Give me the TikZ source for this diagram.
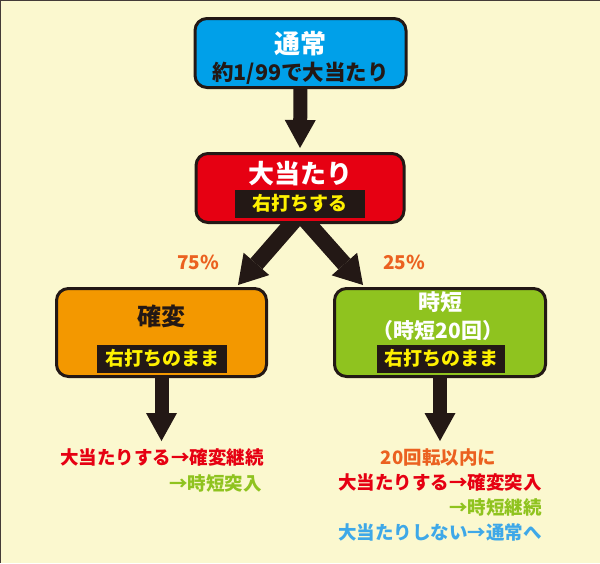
\documentclass[tikz,border=0pt]{standalone}
\usepackage{fontspec}
\setmainfont{Noto Sans CJK JP}
\usetikzlibrary{arrows.meta}
\pgfdeclarelayer{back}
\pgfdeclarelayer{bg}
\pgfsetlayers{back,bg,main}
\definecolor{bgc}{HTML}{FBF8CF}
\definecolor{ink}{HTML}{231815}
\definecolor{cblue}{HTML}{00A0E9}
\definecolor{cred}{HTML}{E60012}
\definecolor{corange}{HTML}{F39800}
\definecolor{cgreen}{HTML}{8FC31F}
\definecolor{labyellow}{HTML}{FFF100}
\definecolor{torange}{HTML}{EB6120}
\definecolor{tred}{HTML}{E60012}
\definecolor{tgreen}{HTML}{8FC31F}
\definecolor{tblue}{HTML}{3EA8E8}
\newcommand{\fs}[1]{\bfseries\fontsize{#1}{#1}\selectfont}
\tikzset{
  box/.style={draw=ink, line width=3pt, rounded corners=12pt, inner sep=0pt},
  lab/.style={fill=ink, text=labyellow, inner sep=0pt, minimum width=130pt, minimum height=28pt, font=\fs{19}},
  downarrow/.style={draw=ink, line width=14pt, -{Triangle[width=31pt,length=28pt,line width=0pt]}},
  diagarrow/.style={draw=ink, line width=16pt, -{Triangle[width=34pt,length=28pt,line width=0pt]}},
  txt/.style={inner sep=0pt, font=\fs{18.5}},
  pct/.style={inner sep=0pt, text=torange, font=\fs{19}},
}
\begin{document}
\begin{tikzpicture}[x=1pt,y=-1pt]
\begin{pgfonlayer}{back}
\path[use as bounding box, fill=bgc] (0,0) rectangle (600,563);
\draw[draw=ink!85, line width=1.5pt] (0,563) -- (0,0) -- (600,0);
\end{pgfonlayer}

% boxes
\node[box, fill=cblue, minimum width=211pt, minimum height=69pt] (tsujo) at (300.5,53) {};
\node[box, fill=cred, minimum width=208pt, minimum height=69pt] (atari) at (300,188) {};
\node[box, fill=corange, minimum width=210pt, minimum height=88pt] (kakuhen) at (161.5,332.5) {};
\node[box, fill=cgreen, minimum width=211pt, minimum height=88pt] (jitan) at (440,332.5) {};

% box texts
\node[inner sep=0pt, text=white, font=\fs{26}] (tsujoT) at (300.5,43.5) {通常};
\node[inner sep=0pt, text=ink, font=\fs{21.5}] (tsujoS) at (300.5,73) {約1/99で大当たり};
\node[inner sep=0pt, text=white, font=\fs{26}] (atariT) at (300,173.5) {大当たり};
\node[lab] (atariL) at (300,203.5) {右打ちする};
\node[inner sep=0pt, text=ink, font=\fs{24}] (kakuhenT) at (161.5,316) {確変};
\node[lab] (kakuhenL) at (162,358.5) {右打ちのまま};
\node[inner sep=0pt, text=white, font=\fs{22}] (jitanT) at (440,302.5) {時短};
\node[inner sep=0pt, text=white, font=\fs{21}] (jitanS) at (438,331) {（時短20回）};
\node[lab, minimum width=128pt] (jitanL) at (441,358.5) {右打ちのまま};

% percentages
\node[pct] (p75) at (198,262) {75\%};
\node[pct] (p25) at (404,262) {25\%};

% end coordinates
\coordinate (leftTip) at (238,285);
\coordinate (rightTip) at (363,285);
\coordinate (kakuhenEnd) at (161.5,441);
\coordinate (jitanEnd) at (440,441);

% bottom texts
\node[txt, text=tred, anchor=west] (k1) at (60,457) {大当たりする→確変継続};
\node[txt, text=tgreen, anchor=east] (k2) at (262,483) {→時短突入};
\node[txt, text=torange] (j1) at (438.5,457) {20回転以内に};
\node[txt, text=tred, anchor=west] (j2) at (338,482) {大当たりする→確変突入};
\node[txt, text=tgreen, anchor=east] (j3) at (542,507) {→時短継続};
\node[txt, text=tblue, anchor=west] (j4) at (338,532) {大当たりしない→通常へ};

% arrows
\begin{pgfonlayer}{bg}
\draw[downarrow, shorten >=4pt] ([yshift=5pt]tsujo.south) -- (atari.north);
\draw[diagarrow] ([yshift=10pt]atari.south) -- (leftTip);
\draw[diagarrow] ([yshift=10pt]atari.south) -- (rightTip);
\draw[downarrow] ([yshift=5pt]kakuhen.south) -- (kakuhenEnd);
\draw[downarrow] ([yshift=5pt]jitan.south) -- (jitanEnd);
\end{pgfonlayer}
\end{tikzpicture}
\end{document}
